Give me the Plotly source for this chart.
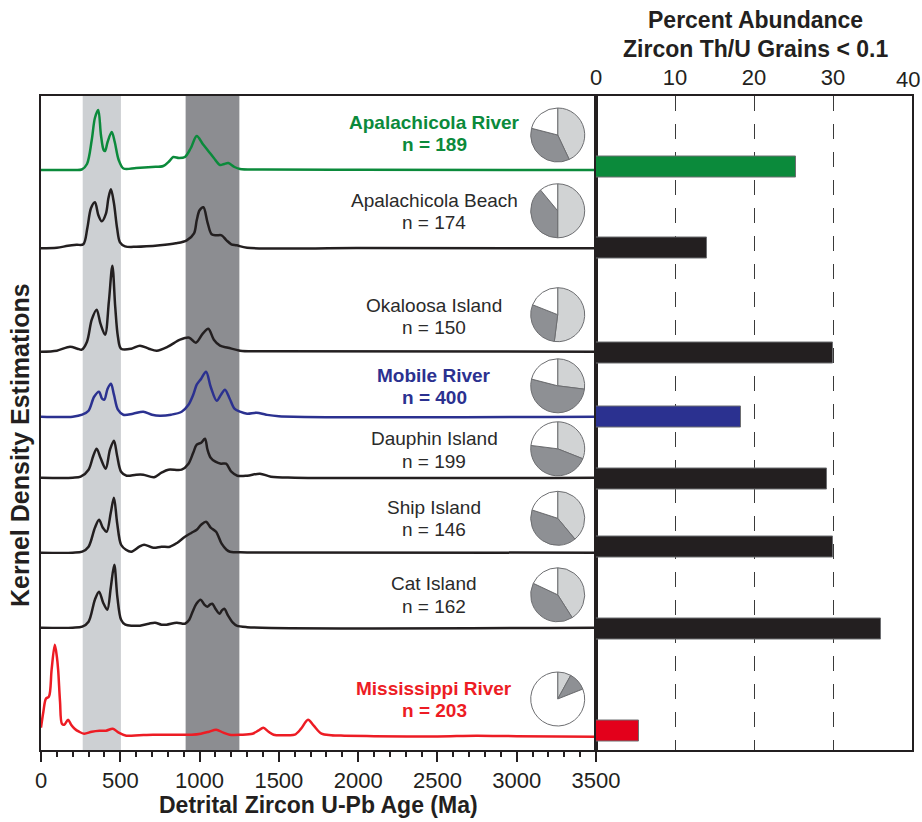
import plotly.graph_objects as go

# ---------------- DATA ----------------
samples = ["Apalachicola River", "Apalachicola Beach", "Okaloosa Island", "Mobile River",
           "Dauphin Island", "Ship Island", "Cat Island", "Mississippi River"]
n_grains = [189, 174, 150, 400, 199, 146, 162, 203]
pct_low_thu = [25.3, 14.0, 30.0, 18.3, 29.2, 30.0, 36.1, 5.5]

# pie fractions (light gray, dark gray, white), clockwise from 12 o'clock
pie_light = [43, 50, 52, 27, 31, 39, 41, 8]
pie_dark = [36, 39, 29, 52, 46, 41, 41, 11]
pie_white = [21, 11, 19, 21, 23, 20, 18, 81]

# KDE curves: age (Ma) and relative density
kde_ages = {
    "Apalachicola River": [0, 200, 257, 290, 320, 340, 361, 378, 395, 404, 420, 446, 465, 490, 520, 600, 700, 771, 810, 834, 870, 908, 945, 982, 1020, 1055, 1090, 1129, 1155, 1181, 1220, 1255, 1400, 2000, 3500],
    "Apalachicola Beach": [0, 100, 170, 225, 267, 292, 315, 340, 362, 383, 410, 425, 441, 460, 480, 498, 530, 600, 750, 850, 919, 965, 982, 1000, 1024, 1050, 1076, 1105, 1139, 1170, 1200, 1234, 1300, 2000, 3500],
    "Okaloosa Island": [0, 100, 183, 230, 257, 290, 320, 351, 375, 404, 428, 450, 468, 485, 505, 570, 624, 680, 730, 800, 877, 935, 977, 1020, 1055, 1090, 1129, 1180, 1255, 1400, 3500],
    "Mobile River": [0, 200, 260, 300, 335, 366, 385, 399, 420, 441, 460, 485, 519, 580, 645, 700, 750, 820, 887, 930, 960, 982, 1010, 1041, 1070, 1108, 1135, 1160, 1190, 1220, 1255, 1300, 1360, 1420, 1500, 3500],
    "Dauphin Island": [0, 200, 250, 300, 330, 351, 375, 408, 435, 460, 480, 505, 540, 600, 645, 713, 760, 803, 887, 930, 960, 982, 1010, 1034, 1050, 1070, 1100, 1135, 1167, 1200, 1238, 1300, 1381, 1450, 1600, 3500],
    "Ship Island": [0, 200, 260, 300, 340, 366, 390, 414, 440, 460, 480, 505, 536, 570, 620, 650, 708, 760, 813, 860, 908, 950, 982, 1010, 1041, 1070, 1104, 1139, 1170, 1192, 1300, 3500],
    "Cat Island": [0, 200, 260, 300, 340, 366, 392, 418, 440, 462, 482, 505, 532, 580, 624, 680, 719, 760, 792, 856, 908, 935, 956, 980, 1007, 1030, 1049, 1065, 1080, 1100, 1125, 1140, 1156, 1180, 1210, 1234, 1300, 3500],
    "Mississippi River": [0, 15, 31, 50, 67, 87, 100, 108, 120, 132, 147, 171, 190, 212, 240, 272, 320, 369, 410, 453, 490, 538, 620, 707, 800, 900, 950, 1008, 1060, 1105, 1150, 1189, 1260, 1334, 1370, 1402, 1435, 1467, 1550, 1600, 1640, 1684, 1720, 1769, 1830, 1913, 2100, 2500, 2746, 3000, 3500],
}
kde_dens = {
    "Apalachicola River": [0, 0, 0.5, 6, 30, 52, 60, 35, 20, 19, 28, 38, 28, 10, 1.5, 2, 3, 4, 9, 13, 12, 13, 22, 34, 26, 19, 12, 5, 6, 7, 3, 1, 0.5, 0.3, 0],
    "Apalachicola Beach": [0, 0.5, 2.5, 3.5, 4, 20, 40, 46, 33, 27, 35, 50, 59, 45, 20, 6, 2, 1.5, 3, 5, 8, 15, 28, 38, 41, 26, 14, 13, 13, 8, 4, 3, 0.5, 0.2, 0],
    "Okaloosa Island": [0, 1, 5, 3, 2, 10, 32, 42, 28, 17, 50, 86, 45, 15, 3, 3, 6, 3, 1, 5, 12, 14, 9, 18, 23, 12, 6, 4, 1, 0.5, 0],
    "Mobile River": [0, 0, 2, 6, 20, 25, 18, 17, 28, 33, 22, 7, 2, 3, 5, 2, 1, 2, 5, 12, 22, 32, 38, 45, 30, 16, 22, 27, 18, 8, 5, 3, 4, 2, 0.5, 0],
    "Dauphin Island": [0, 0, 1, 8, 22, 29, 20, 9, 28, 37, 22, 6, 2, 3, 3, 0.5, 5, 8, 8, 14, 25, 33, 35, 39, 28, 20, 16, 14, 14, 6, 2, 2, 4, 1, 0, 0],
    "Ship Island": [0, 0, 1, 6, 25, 33, 25, 21, 40, 55, 30, 8, 3, 1, 6, 8, 5, 6, 6, 10, 16, 20, 23, 28, 31, 25, 21, 9, 3, 1, 0.3, 0],
    "Cat Island": [0, 0, 1, 6, 28, 36, 25, 18, 40, 63, 30, 8, 3, 2, 2, 4, 5, 3, 3, 5, 4, 8, 16, 24, 28, 23, 21, 23, 24, 19, 14, 17, 19, 12, 5, 2, 0.5, 0],
    "Mississippi River": [9, 25, 38, 40, 67, 92, 80, 67, 35, 13, 12, 17, 12, 8, 5, 3, 5, 6, 6, 8, 4, 1, 1.5, 2, 2, 2, 2, 3, 5, 7, 4, 2, 2, 3, 6, 9, 5, 2, 1.5, 2, 8, 17, 11, 3, 1.5, 1, 0.5, 0.3, 1, 0.5, 0],
}
x_ticks = [0, 500, 1000, 1500, 2000, 2500, 3000, 3500]
pct_ticks = [0, 10, 20, 30]
pct_last_tick = 40
band_light = [263, 504]
band_dark = [912, 1251]

# ---------------- LAYOUT HELPERS ----------------
W, H = 922, 822
TOP, BOT = 95.5, 750.0
baseline_px = [170, 248.3, 351.7, 416.7, 477.7, 552.7, 627.7, 736.7]
bar_center_px = [167.2, 248, 352.7, 417, 479, 547, 629, 731.3]
label_px = [(122, 144), (200, 222.5), (305.5, 328), (375, 397), (439, 461.7), (507, 529), (583, 606), (688.3, 710)]
pie_cy_px = [135, 210.8, 314.7, 385.8, 448.8, 518.3, 594.8, 699]
pie_cx_px = 557.7
pie_d = 54
colors = ["#0b8a3b", "#231f20", "#231f20", "#2b3190", "#231f20", "#231f20", "#231f20", "#ed1c24"]
bar_colors = ["#0b8a3b", "#231f20", "#231f20", "#2b3190", "#231f20", "#231f20", "#231f20", "#e3001b"]
bold = [True, False, False, True, False, False, False, True]
FONT = "Liberation Sans, Arial, sans-serif"
TXT = "#231f20"


def vx(p):
    return p / W


def vy(p):
    return (H - p) / H


def v(p):  # pixel y -> data value on the shared y range
    return BOT - p


fig = go.Figure()

# KDE curves
for i, s in enumerate(samples):
    off = v(baseline_px[i])
    fig.add_trace(go.Scatter(
        x=kde_ages[s], y=[off + d for d in kde_dens[s]], mode="lines",
        line=dict(color=colors[i], width=2.5, shape="spline", smoothing=0.9),
        xaxis="x", yaxis="y", showlegend=False, hoverinfo="skip"))

# bars
fig.add_trace(go.Bar(
    x=pct_low_thu, y=[v(p) for p in bar_center_px], orientation="h", width=21,
    marker=dict(color=bar_colors, line=dict(color="#6d6e71", width=1)),
    xaxis="x2", yaxis="y2", showlegend=False, hoverinfo="skip"))

# pies
for i in range(len(samples)):
    cy = pie_cy_px[i]
    fig.add_trace(go.Pie(
        values=[pie_light[i], pie_dark[i], pie_white[i]], sort=False,
        direction="clockwise", rotation=0, textinfo="none", hoverinfo="skip",
        marker=dict(colors=["#d1d3d4", "#8e9094", "#ffffff"], line=dict(color="#6d6e71", width=1)),
        domain=dict(x=[vx(pie_cx_px - pie_d / 2), vx(pie_cx_px + pie_d / 2)],
                    y=[vy(cy + pie_d / 2), vy(cy - pie_d / 2)]),
        showlegend=False))

# bands
shapes = [
    dict(type="rect", xref="x", yref="y domain", x0=band_light[0], x1=band_light[1], y0=0, y1=1,
         fillcolor="#cdd0d3", line=dict(width=0), layer="below"),
    dict(type="rect", xref="x", yref="y domain", x0=band_dark[0], x1=band_dark[1], y0=0, y1=1,
         fillcolor="#8c8d91", line=dict(width=0), layer="below"),
]

annotations = []
for i, s in enumerate(samples):
    t1, t2 = s, f"n = {n_grains[i]}"
    if bold[i]:
        t1, t2 = f"<b>{t1}</b>", f"<b>{t2}</b>"
    for t, yp in zip((t1, t2), label_px[i]):
        annotations.append(dict(text=t, x=vx(434), y=vy(yp), xref="paper", yref="paper",
                                xanchor="center", yanchor="middle", showarrow=False,
                                font=dict(family=FONT, size=19, color=colors[i] if bold[i] else "#2a2a2a")))

annotations += [
    dict(text="<b>Kernel Density Estimations</b>", x=vx(20), y=vy(445), xref="paper", yref="paper",
         textangle=-90, showarrow=False, xanchor="center", yanchor="middle",
         font=dict(family=FONT, size=25, color=TXT)),
    dict(text="<b>Detrital Zircon U-Pb Age (Ma)</b>", x=vx(318), y=vy(805), xref="paper", yref="paper",
         showarrow=False, xanchor="center", yanchor="middle", font=dict(family=FONT, size=23, color=TXT)),
    dict(text="<b>Percent Abundance</b>", x=vx(755), y=vy(20.5), xref="paper", yref="paper",
         showarrow=False, xanchor="center", yanchor="middle", font=dict(family=FONT, size=23, color=TXT)),
    dict(text="<b>Zircon Th/U Grains < 0.1</b>", x=vx(755), y=vy(49), xref="paper", yref="paper",
         showarrow=False, xanchor="center", yanchor="middle", font=dict(family=FONT, size=23, color=TXT)),
    # last tick label of the top axis, nudged inside the page as in the original
    dict(text=str(pct_last_tick), x=vx(908), y=vy(79), xref="paper", yref="paper",
         showarrow=False, xanchor="center", yanchor="middle", font=dict(family=FONT, size=22, color=TXT)),
]

ydom = [vy(BOT), vy(TOP)]
yrange = [0, BOT - TOP]

fig.update_layout(
    width=W, height=H, margin=dict(l=0, r=0, t=0, b=0),
    paper_bgcolor="white", plot_bgcolor="rgba(0,0,0,0)",
    shapes=shapes, annotations=annotations, bargap=0,
    xaxis=dict(domain=[vx(41), vx(596)], range=[0, 3500], tickvals=x_ticks,
               ticks="outside", ticklen=10, tickwidth=2, tickcolor=TXT,
               minor=dict(dtick=100, ticks="outside", ticklen=5, tickwidth=1.5, tickcolor=TXT, showgrid=False),
               showline=True, linewidth=2, linecolor=TXT, mirror=True, showgrid=False, zeroline=False,
               tickfont=dict(family=FONT, size=22, color=TXT), automargin=False, anchor="y"),
    yaxis=dict(domain=ydom, range=yrange, showticklabels=False, ticks="", showgrid=False,
               zeroline=False, showline=True, linewidth=2, linecolor=TXT, mirror=True,
               automargin=False, anchor="x"),
    xaxis2=dict(domain=[vx(596), vx(912)], range=[0, 40], tickvals=pct_ticks, side="top",
                ticks="", showline=True, linewidth=2, linecolor=TXT, mirror=True,
                showgrid=True, gridcolor="#3a3a3a", gridwidth=1, griddash="15px,13px",
                zeroline=False, tickfont=dict(family=FONT, size=22, color=TXT),
                automargin=False, anchor="y2"),
    yaxis2=dict(domain=ydom, range=yrange, showticklabels=False, ticks="", showgrid=False,
                zeroline=False, showline=True, linewidth=2, linecolor=TXT, mirror=True,
                automargin=False, anchor="x2"),
)

fig.write_html("out.html", config={"displayModeBar": False},
               post_script="document.body.style.margin='0';document.body.style.overflow='hidden';")
